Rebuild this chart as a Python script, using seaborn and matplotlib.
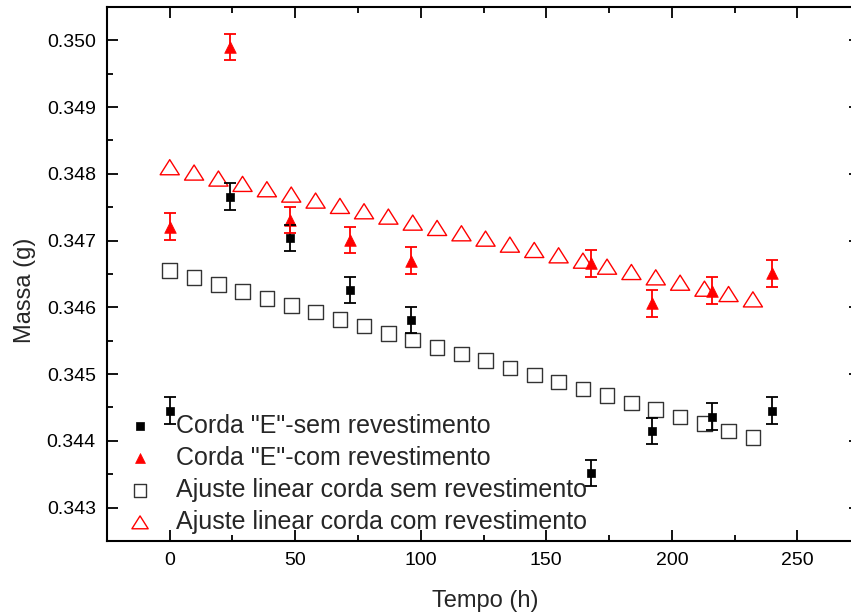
import matplotlib
matplotlib.use("Agg")
import matplotlib.pyplot as plt
import seaborn as sns
from matplotlib.path import Path
from matplotlib.ticker import MultipleLocator, FormatStrFormatter

# measured points (with error bars)
t_meas = [0, 24, 48, 72, 96, 168, 192, 216, 240]
m_sem = [0.34445, 0.34766, 0.34704, 0.34626, 0.34581, 0.34352, 0.34415, 0.34436, 0.34445]
err_sem = [0.0002, 0.0002, 0.0002, 0.0002, 0.0002, 0.0002, 0.0002, 0.0002, 0.0002]
m_com = [0.34721, 0.34990, 0.34731, 0.34701, 0.34670, 0.34666, 0.34606, 0.34625, 0.34651]
err_com = [0.0002, 0.0002, 0.0002, 0.0002, 0.0002, 0.0002, 0.0002, 0.0002, 0.0002]

# linear fit points
t_fit = [0, 9.7, 19.4, 29.0, 38.7, 48.4, 58.1, 67.8, 77.4, 87.1, 96.8, 106.5, 116.2,
         125.8, 135.5, 145.2, 154.9, 164.6, 174.2, 183.9, 193.6, 203.3, 213.0, 222.6, 232.3]
fit_sem = [0.34655, 0.34645, 0.34634, 0.34624, 0.34613, 0.34603, 0.34593, 0.34582,
           0.34572, 0.34561, 0.34551, 0.34540, 0.34530, 0.34520, 0.34509, 0.34499,
           0.34488, 0.34478, 0.34468, 0.34457, 0.34447, 0.34436, 0.34426, 0.34415, 0.34405]
fit_com = [0.34810, 0.34802, 0.34793, 0.34785, 0.34777, 0.34769, 0.34760, 0.34752,
           0.34744, 0.34736, 0.34727, 0.34719, 0.34711, 0.34703, 0.34694, 0.34686,
           0.34678, 0.34670, 0.34661, 0.34653, 0.34645, 0.34637, 0.34628, 0.34620, 0.34612]

labels = ['Corda "E"-sem revestimento', 'Corda "E"-com revestimento',
          'Ajuste linear corda sem revestimento', 'Ajuste linear corda com revestimento']

sns.set_style("ticks")
plt.rcParams['font.family'] = ['Liberation Sans', 'DejaVu Sans']

fig = plt.figure(figsize=(8.51, 6.14), dpi=100)
ax = fig.add_axes([0.1257, 0.1189, 0.885, 0.8697])

# wider-than-tall open triangle, closed path
wide_tri = Path([(0, 0.79), (-1, -0.79), (1, -0.79), (0, 0.79)],
                [Path.MOVETO, Path.LINETO, Path.LINETO, Path.CLOSEPOLY])

sns.scatterplot(x=t_meas, y=m_sem, marker='s', s=40, color='black', edgecolor='black',
                linewidth=0.5, label=labels[0], ax=ax, zorder=4)
sns.scatterplot(x=t_meas, y=m_com, marker='^', s=70, color='red', edgecolor='red',
                linewidth=0.5, label=labels[1], ax=ax, zorder=4)
sns.scatterplot(x=t_fit, y=fit_sem, marker='s', s=110, facecolor='none', edgecolor='#333333',
                linewidth=1.0, label=labels[2], ax=ax, zorder=3)
sns.scatterplot(x=t_fit, y=fit_com, marker=wide_tri, s=190, facecolor='none', edgecolor='red',
                linewidth=1.0, label=labels[3], ax=ax, zorder=3)

ax.errorbar(t_meas, m_sem, yerr=err_sem, fmt='none', ecolor='black', elinewidth=1.3,
            capsize=4, capthick=1.3, zorder=5)
ax.errorbar(t_meas, m_com, yerr=err_com, fmt='none', ecolor='red', elinewidth=1.3,
            capsize=4, capthick=1.3, zorder=5)

ax.set_xlim(-25, 275)
ax.set_ylim(0.3425, 0.3505)
ax.xaxis.set_major_locator(MultipleLocator(50))
ax.xaxis.set_minor_locator(MultipleLocator(25))
ax.yaxis.set_major_locator(MultipleLocator(0.001))
ax.yaxis.set_minor_locator(MultipleLocator(0.0005))
ax.yaxis.set_major_formatter(FormatStrFormatter('%.3f'))

for side in ['left', 'bottom', 'top', 'right']:
    ax.spines[side].set_linewidth(1.5)
    ax.spines[side].set_color('black')
ax.tick_params(which='both', direction='in', top=True, right=True, width=1.3,
               labelsize=14, pad=8, colors='black')
ax.tick_params(which='major', length=8)
ax.tick_params(which='minor', length=4)

ax.set_xlabel('Tempo (h)', fontsize=17)
ax.set_ylabel('Massa (g)', fontsize=17)
ax.xaxis.set_label_coords(0.502, -0.092)
ax.yaxis.set_label_coords(-0.094, 0.47)

ax.legend(loc='upper left', bbox_to_anchor=(0.024, 0.238), frameon=False,
          fontsize=18, handlelength=1.2, handletextpad=0.85, labelspacing=0.32,
          borderpad=0, borderaxespad=0, markerscale=0.85)

fig.savefig('out.png', dpi=100)
